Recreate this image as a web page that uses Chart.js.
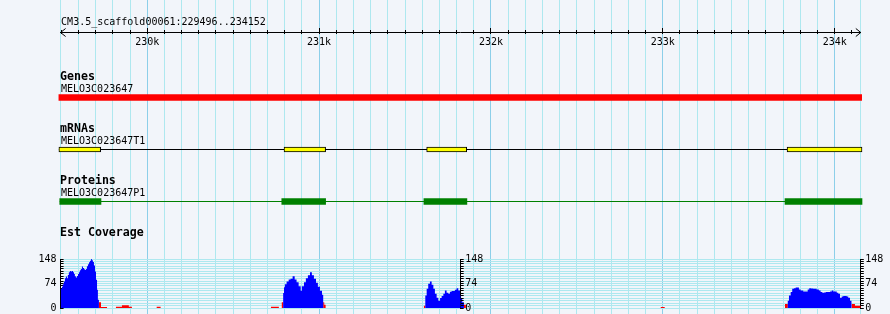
<!DOCTYPE html>
<html>
<head>
<meta charset="utf-8">
<script src="https://cdn.jsdelivr.net/npm/chart.js@4.4.1/dist/chart.umd.min.js"></script>
<style>
  html, body { margin: 0; padding: 0; background: #f2f5fa; }
  #wrap { position: relative; width: 890px; height: 314px; }
  #wrap canvas { position: absolute; left: 0; top: 0; }
</style>
</head>
<body>
<div id="wrap">
  <canvas id="tracksChart" width="890" height="314"></canvas>
  <canvas id="covRightChart" width="890" height="314"></canvas>
  <canvas id="covLeftChart" width="890" height="314"></canvas>
</div>
<script>
// Vista del navegador genómico
const refName = "CM3.5_scaffold00061";
const viewStart = 229496;
const viewEnd = 234152;
const viewMid = 231824;

const trackTitles = ["Genes", "mRNAs", "Proteins", "Est Coverage"];
const featureNames = ["MELO3C023647", "MELO3C023647T1", "MELO3C023647P1"];

// Coordenadas de las features (pb)
const geneSpan = [229486, 234157];
const mrnaExons = [[229486, 229729], [230796, 231038], [231626, 231859], [233723, 234159]];
const proteinCds = [[229491, 229731], [230783, 231038], [231610, 231860], [233711, 234159]];

// Cobertura EST: [inicio del tramo, valor]
const covMax = 148;
const covTickLabels = [0, 74, 148];
const covBlue = [
  [229496, 58], [229504, 64], [229509, 72], [229515, 80], [229521, 90], [229527, 95], [229533, 90],
  [229538, 100], [229544, 108], [229550, 112], [229556, 110], [229562, 112], [229568, 108], [229574, 103],
  [229579, 96], [229585, 92], [229591, 97], [229597, 103], [229603, 108], [229608, 114], [229614, 118],
  [229620, 125], [229626, 121], [229632, 117], [229638, 115], [229643, 118], [229649, 126], [229655, 132],
  [229661, 138], [229667, 143], [229673, 148], [229678, 144], [229684, 139], [229690, 128], [229696, 110],
  [229702, 85], [229708, 55], [229713, 25], [229719, 0],
  [230791, 45], [230796, 63], [230801, 72], [230811, 80], [230823, 86], [230834, 88], [230846, 96],
  [230858, 86], [230869, 78], [230881, 66], [230893, 52], [230900, 66], [230912, 78], [230923, 90],
  [230935, 99], [230947, 108], [230958, 99], [230970, 88], [230982, 76], [230993, 64], [231005, 52],
  [231017, 40], [231024, 0],
  [231618, 38], [231626, 58], [231635, 73], [231645, 80], [231655, 70], [231665, 58], [231674, 43],
  [231684, 31], [231694, 22], [231704, 30], [231713, 36], [231723, 43], [231732, 53], [231742, 46],
  [231752, 43], [231761, 49], [231771, 51], [231790, 55], [231800, 60], [231810, 53], [231820, 38],
  [231826, 28], [231833, 17], [231843, 0],
  [233727, 22], [233734, 38], [233744, 48], [233753, 58], [233763, 60], [233773, 62], [233792, 56],
  [233802, 53], [233817, 50], [233843, 56], [233852, 60], [233862, 59], [233875, 58], [233895, 56],
  [233908, 53], [233918, 48], [233928, 46], [233938, 47], [233948, 48], [233973, 50], [233983, 53],
  [233992, 50], [234012, 46], [234021, 43], [234031, 31], [234041, 35], [234050, 36], [234070, 35],
  [234079, 31], [234089, 22], [234099, 0]
];
const covRed = [
  [229719, 17], [229731, 3], [229766, 0],
  [229818, 4], [229853, 8], [229893, 4], [229911, 0],
  [230055, 4], [230078, 0],
  [230720, 4], [230766, 0], [230783, 17], [230791, 0],
  [231024, 17], [231030, 10], [231038, 0],
  [231610, 7], [231618, 0],
  [231843, 10], [231854, 0],
  [232988, 3], [233011, 0],
  [233711, 12], [233727, 0],
  [234099, 12], [234118, 7], [234152, 0]
];

// Layout (píxeles)
const PLOT_LEFT = 60.6;
const PLOT_RIGHT = 860.8;
const MID_PX = PLOT_LEFT + (viewMid - viewStart) / (viewEnd - viewStart) * (PLOT_RIGHT - PLOT_LEFT);
const ROW_PX = 52;
const ROW_MIN = 1 - 97.5 / ROW_PX;
const ROW_MAX = ROW_MIN + 314 / ROW_PX;
const rowAt = px => ROW_MIN + px / ROW_PX;
const COV_TOP = 259;
const COV_BOTTOM = 308;

const GRID_MINOR = "#aee8ef";
const GRID_MAJOR = "#8ccfe9";
const SMALL_FONT = '10px "DejaVu Sans Mono"';
const BOLD_FONT = 'bold 11.6px "DejaVu Sans Mono"';

Chart.defaults.font.family = '"DejaVu Sans Mono", monospace';
Chart.defaults.font.size = 10;
Chart.defaults.color = "#000";

const commonOptions = {
  responsive: false,
  animation: false,
  events: [],
  plugins: { legend: { display: false }, tooltip: { enabled: false } },
};

const isKb = v => Math.abs(v % 1000) < 0.5;

// Títulos de pistas, nombres de features y flechas de la regla
const trackLabels = {
  id: "trackLabels",
  afterDraw(chart) {
    const { ctx } = chart;
    const x = chart.scales.x;
    const y = chart.scales.y;
    const lineY = Math.round(y.getPixelForValue(rowAt(32.3))) + 0.5;
    ctx.save();
    ctx.fillStyle = "#000";
    ctx.strokeStyle = "#000";
    ctx.lineWidth = 1;
    ctx.textBaseline = "alphabetic";
    ctx.textAlign = "left";

    ctx.font = SMALL_FONT;
    ctx.fillText(`${refName}:${viewStart}..${viewEnd}`, x.left + 0.5, lineY - 7.5);

    ctx.beginPath();
    ctx.moveTo(x.left + 5, lineY - 4);
    ctx.lineTo(x.left, lineY);
    ctx.lineTo(x.left + 5, lineY + 4);
    ctx.moveTo(x.right - 5, lineY - 4);
    ctx.lineTo(x.right, lineY);
    ctx.lineTo(x.right - 5, lineY + 4);
    ctx.stroke();

    trackTitles.forEach((title, i) => {
      const rowY = y.getPixelForValue(i + 1);
      ctx.font = BOLD_FONT;
      ctx.fillText(title, x.left - 0.6, rowY - 17.5);
      if (featureNames[i]) {
        ctx.font = SMALL_FONT;
        ctx.fillText(featureNames[i], x.left + 0.4, rowY - 5.5);
      }
    });
    ctx.restore();
  }
};

const barBase = {
  type: "bar", indexAxis: "y", grouped: false, borderSkipped: false,
  xAxisID: "x", yAxisID: "y", clip: false, order: 1
};
const lineBase = {
  type: "line", pointRadius: 0, borderWidth: 1, xAxisID: "x", yAxisID: "y", clip: false, order: 2
};

function rulerAxis(rowPos, extra) {
  return {
    type: "linear", min: viewStart, max: viewEnd, offset: false, position: { y: rowPos },
    ...extra,
  };
}

new Chart(document.getElementById("tracksChart"), {
  type: "bar",
  data: {
    datasets: [
      { ...lineBase, data: [{ x: mrnaExons[0][0], y: 2 }, { x: mrnaExons[mrnaExons.length - 1][1], y: 2 }], borderColor: "#000" },
      { ...lineBase, data: [{ x: proteinCds[0][0], y: 3 }, { x: proteinCds[proteinCds.length - 1][1], y: 3 }], borderColor: "#008000" },
      { ...barBase, data: [{ x: geneSpan, y: 1 }], backgroundColor: "#ff0000", barThickness: 6 },
      { ...barBase, data: mrnaExons.map(e => ({ x: e, y: 2 })), backgroundColor: "#ffff00", borderColor: "#000", borderWidth: 1, barThickness: 5 },
      { ...barBase, data: proteinCds.map(e => ({ x: e, y: 3 })), backgroundColor: "#008000", barThickness: 6 },
    ]
  },
  options: {
    ...commonOptions,
    layout: { autoPadding: false, padding: { left: PLOT_LEFT, right: 890 - PLOT_RIGHT, top: 0, bottom: 0 } },
    scales: {
      x: {
        type: "linear", min: viewStart, max: viewEnd, position: "bottom", offset: false,
        ticks: { display: false, stepSize: 100 },
        border: { display: false },
        grid: {
          offset: false, drawTicks: false,
          color: c => (c.tick && isKb(c.tick.value) ? GRID_MAJOR : GRID_MINOR),
        },
      },
      y: { type: "linear", min: ROW_MIN, max: ROW_MAX, reverse: true, offset: false, display: false },
      // regla: marcas cada 100 pb
      xr: rulerAxis(rowAt(30.3), {
        ticks: { display: false, stepSize: 100, includeBounds: false },
        border: { display: false },
        grid: { offset: false, drawOnChartArea: false, tickLength: 4, tickColor: "#000" },
      }),
      // regla: marcas largas y etiquetas cada 1000 pb
      xk: rulerAxis(rowAt(28.3), {
        ticks: {
          stepSize: 100, includeBounds: false, autoSkip: false, maxRotation: 0, padding: 2,
          callback: v => (isKb(v) ? `${Math.round(v / 1000)}k` : ""),
        },
        border: { display: false },
        grid: {
          offset: false, drawOnChartArea: false, tickLength: 6,
          tickColor: c => (c.tick && isKb(c.tick.value) ? "#000" : "rgba(0,0,0,0)"),
        },
      }),
      // línea de la regla
      xl: rulerAxis(rowAt(32.3), {
        ticks: { display: false, stepSize: 100 },
        border: { display: true, color: "#000", width: 1 },
        grid: { offset: false, drawOnChartArea: false, drawTicks: false },
      }),
    }
  },
  plugins: [trackLabels]
});

function covAxis(position, tickLength, padding, width, extraGrid) {
  return {
    type: "linear", position, min: 0, max: covMax, offset: false,
    afterFit: s => {
      s.width = width;
      s.paddingTop = 0;
      s.paddingBottom = 0;
    },
    ticks: {
      stepSize: covMax / 20, autoSkip: false, padding,
      callback: v => {
        const r = Math.round(v);
        return Math.abs(v - r) < 0.01 && covTickLabels.includes(r) ? String(r) : "";
      },
    },
    border: { color: "#000", width: 1 },
    grid: { color: GRID_MINOR, tickColor: "#000", tickLength, ...extraGrid },
  };
}

function covDatasets(yAxisID) {
  const base = {
    type: "line", stepped: true, fill: "origin", borderWidth: 0, borderColor: "rgba(0,0,0,0)",
    pointRadius: 0, clip: 0, yAxisID
  };
  return [
    { ...base, data: covBlue.map(([x, y]) => ({ x, y })), backgroundColor: "#0000ff" },
    { ...base, data: covRed.map(([x, y]) => ({ x, y })), backgroundColor: "#ff0000" },
  ];
}

const covLayout = left => ({
  autoPadding: false,
  padding: { left, right: 0, top: COV_TOP, bottom: 314 - COV_BOTTOM },
});

// Mitad izquierda de la cobertura (eje izquierdo + eje central)
new Chart(document.getElementById("covLeftChart"), {
  type: "line",
  data: { datasets: covDatasets("yl") },
  options: {
    ...commonOptions,
    layout: covLayout(0),
    scales: {
      x: { type: "linear", min: viewStart, max: viewMid, offset: false, display: false },
      yl: covAxis("left", -3, 7, PLOT_LEFT),
      ym: covAxis("right", 3, 1.5, 890 - MID_PX, { drawOnChartArea: false }),
    }
  }
});

// Mitad derecha de la cobertura
new Chart(document.getElementById("covRightChart"), {
  type: "line",
  data: { datasets: covDatasets("yr") },
  options: {
    ...commonOptions,
    layout: covLayout(MID_PX),
    scales: {
      x: { type: "linear", min: viewMid, max: viewEnd, offset: false, display: false },
      yr: covAxis("right", 3, 1.5, 890 - PLOT_RIGHT),
    }
  }
});
</script>
</body>
</html>
